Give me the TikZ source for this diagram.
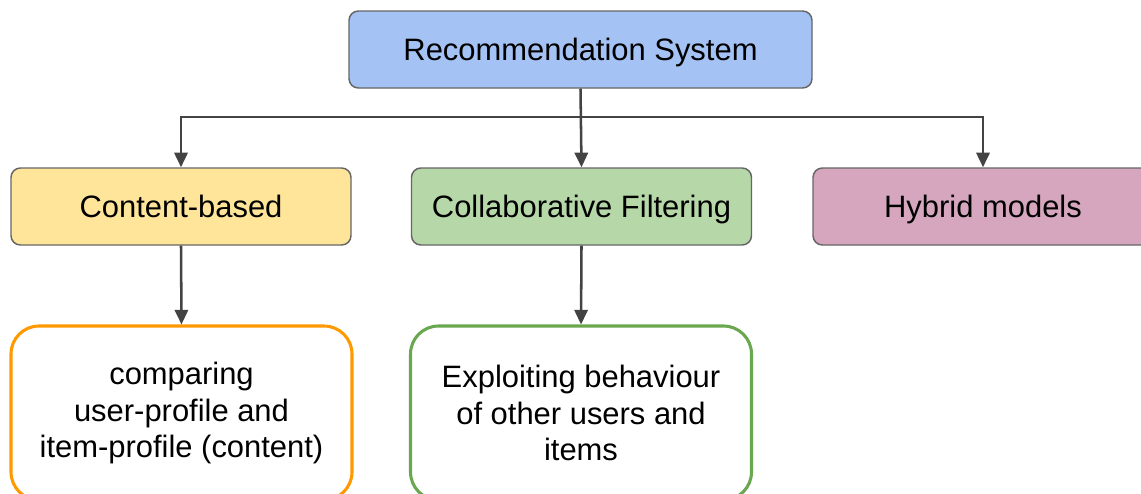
\documentclass[tikz,border=0pt]{standalone}
\usepackage{fontspec}
\setmainfont{Liberation Sans}
\usetikzlibrary{arrows.meta}
\definecolor{rsblue}{HTML}{A4C2F4}
\definecolor{cbyellow}{HTML}{FFE599}
\definecolor{cfgreen}{HTML}{B6D7A8}
\definecolor{hmpink}{HTML}{D5A6BD}
\definecolor{cborange}{HTML}{FF9900}
\definecolor{cfdark}{HTML}{6AA84F}
\definecolor{edgegray}{HTML}{666666}
\definecolor{linegray}{HTML}{434343}
\tikzset{
	catbox/.style={draw=edgegray, line width=1.1pt, rounded corners=7pt, minimum width=255pt, minimum height=57.75pt, text height=16.6pt, text depth=0pt, font=\fontsize{23.2}{27}\selectfont},
	descbox/.style={fill=white, line width=2.3pt, rounded corners=21pt, minimum width=255.75pt, minimum height=130.5pt, align=center, font=\fontsize{23.2}{27.5}\selectfont},
	conn/.style={draw=linegray, line width=1.9pt, -{Triangle[length=11pt, width=10pt]}}
}

\begin{document}
\begin{tikzpicture}[x=0.75pt, y=-0.75pt]

	\useasboundingbox (0, 0) rectangle (1141, 493);

	\node[catbox, fill=rsblue, minimum width=347.25pt] (rs) at (580.5, 49.5) {Recommendation System};

	\node[catbox, fill=cbyellow] (cb) at (181, 206.5) {Content-based};
	\node[catbox, fill=cfgreen] (cf) at (581.5, 206.5) {Collaborative Filtering};
	\node[catbox, fill=hmpink] (hm) at (983, 206.5) {Hybrid models};

	\node[descbox, draw=cborange] (cbdesc) at (181.5, 413) {comparing\\user-profile and\\item-profile (content)};
	\node[descbox, draw=cfdark] (cfdesc) at (581, 413) {Exploiting behaviour\\of other users and\\items};

	% split
	\coordinate (split) at (rs.south |- 0, 117);
	\draw[conn] (rs.south) -- (cf.north);
	\draw[conn] (split) -| (cb.north);
	\draw[conn] (split) -| (hm.north);

	\draw[conn] (cb.south) -- (cbdesc.north);
	\draw[conn] (cf.south) -- (cfdesc.north);

\end{tikzpicture}
\end{document}
